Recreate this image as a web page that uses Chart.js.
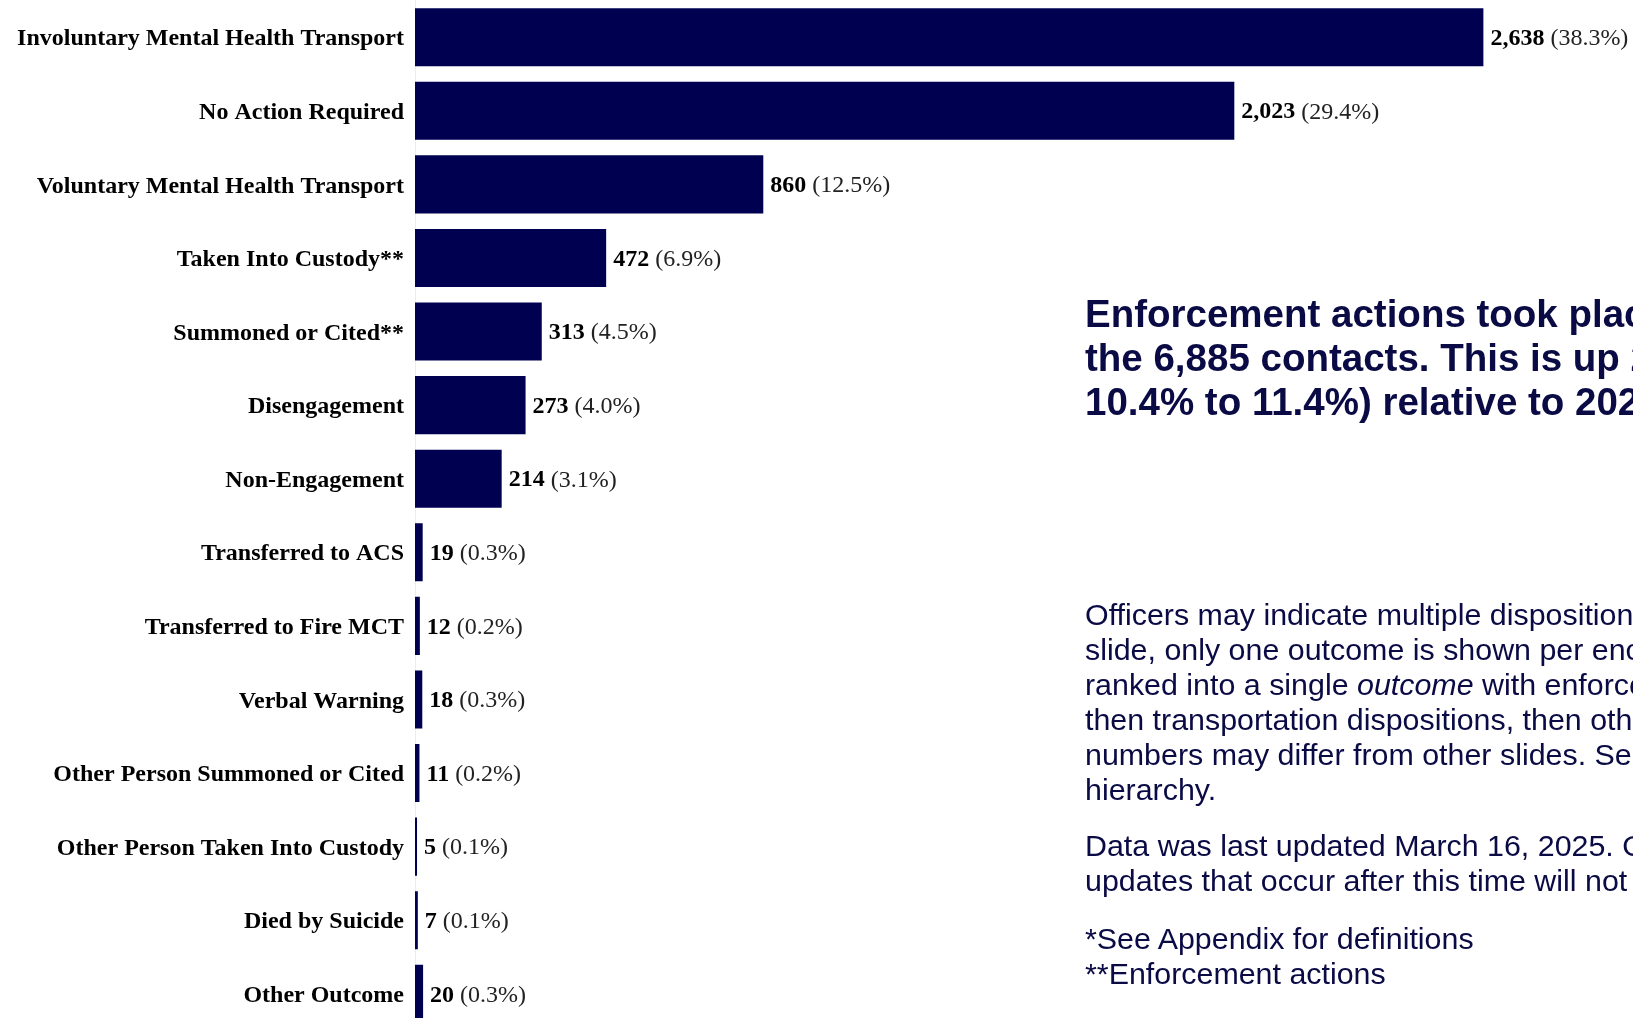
<!DOCTYPE html>
<html>
<head>
<meta charset="utf-8">
<script src="https://cdn.jsdelivr.net/npm/chart.js@4.4.1/dist/chart.umd.min.js"></script>
<style>
  html, body { margin: 0; padding: 0; background: #fff; overflow: hidden; }
  #wrap { position: relative; width: 1633px; height: 1018px; overflow: hidden; }
  #outcomes { position: absolute; left: 0; top: 0; }
  .side { position: absolute; left: 1085px; white-space: nowrap; color: #0a0a45; font-family: "Liberation Sans", Arial, sans-serif; }
  .headline { top: 292px; font-weight: bold; font-size: 38.5px; line-height: 44px; }
  .notes { top: 597px; font-size: 30.4px; line-height: 35px; }
  .notes p { margin: 0 0 21px 0; }
  .notes p.last { margin-top: 23px; }
</style>
</head>
<body>
<div id="wrap">
  <canvas id="outcomes" width="1633" height="1081"></canvas>

  <div class="side headline">
    Enforcement actions took place in 785 (11.4%) of<br>
    the 6,885 contacts. This is up 2<br>
    10.4% to 11.4%) relative to 2023.
  </div>

  <div class="side notes">
    <p>Officers may indicate multiple dispositions per contact. On this<br>
    slide, only one outcome is shown per encounter; dispositions are<br>
    ranked into a single <i>outcome</i> with enforcement actions first,<br>
    then transportation dispositions, then other outcomes. As a result,<br>
    numbers may differ from other slides. See Appendix for the<br>
    hierarchy.</p>
    <p>Data was last updated March 16, 2025. Outcome<br>
    updates that occur after this time will not be reflected.</p>
    <p class="last">*See Appendix for definitions<br>
    **Enforcement actions</p>
  </div>
</div>

<script>
// outcome categories, top to bottom
var outcomes = [
  'Involuntary Mental Health Transport',
  'No Action Required',
  'Voluntary Mental Health Transport',
  'Taken Into Custody**',
  'Summoned or Cited**',
  'Disengagement',
  'Non-Engagement',
  'Transferred to ACS',
  'Transferred to Fire MCT',
  'Verbal Warning',
  'Other Person Summoned or Cited',
  'Other Person Taken Into Custody',
  'Died by Suicide',
  'Other Outcome'
];

// contacts per outcome
var contacts = [2638, 2023, 860, 472, 313, 273, 214, 19, 12, 18, 11, 5, 7, 20];

var totalContacts = contacts.reduce(function(a, b) { return a + b }, 0);

var navy = '#000050';
var serif = '"Liberation Serif", "Times New Roman", serif';

// count + share printed after each bar
var valueLabels = {
  id: 'valueLabels',
  afterDatasetsDraw: function(chart) {
    var ctx = chart.ctx;
    var meta = chart.getDatasetMeta(0);
    ctx.save();
    ctx.textBaseline = 'middle';
    ctx.textAlign = 'left';
    meta.data.forEach(function(bar, i) {
      var v = contacts[i];
      var num = v.toLocaleString('en-US');
      var pct = ' (' + (v / totalContacts * 100).toFixed(1) + '%)';
      var x = bar.x + 7;
      var y = bar.y + 1.5;
      ctx.font = 'bold 24px ' + serif;
      ctx.fillStyle = '#000';
      ctx.fillText(num, x, y);
      x += ctx.measureText(num).width;
      ctx.font = '24px ' + serif;
      ctx.fillStyle = '#222';
      ctx.fillText(pct, x, y);
    });
    ctx.restore();
  }
};

var canvas = document.getElementById('outcomes');
var chart = new Chart(canvas.getContext('2d'), {
  type: 'bar',
  data: {
    labels: outcomes,
    datasets: [{
      data: contacts,
      backgroundColor: navy,
      borderWidth: 0,
      barPercentage: 0.79,
      categoryPercentage: 1
    }]
  },
  options: {
    indexAxis: 'y',
    responsive: false,
    maintainAspectRatio: false,
    animation: false,
    layout: { padding: { top: 0, right: 3, bottom: 0, left: 0 } },
    plugins: {
      legend: { display: false },
      tooltip: { enabled: false }
    },
    scales: {
      x: {
        display: false,
        min: 0,
        max: 3000
      },
      y: {
        grid: { display: false, drawTicks: false },
        border: { display: true, color: '#ececf2', width: 1 },
        afterFit: function(scale) { scale.width = 415 },
        ticks: {
          padding: 11,
          labelOffset: 2,
          color: '#000',
          font: { family: serif, size: 24, weight: 'bold' }
        }
      }
    }
  },
  plugins: [valueLabels]
});

// the y labels reserve room above/below the plot; pull the plot up to the page top
canvas.style.top = Math.round(-chart.chartArea.top) + 'px';
</script>
</body>
</html>
